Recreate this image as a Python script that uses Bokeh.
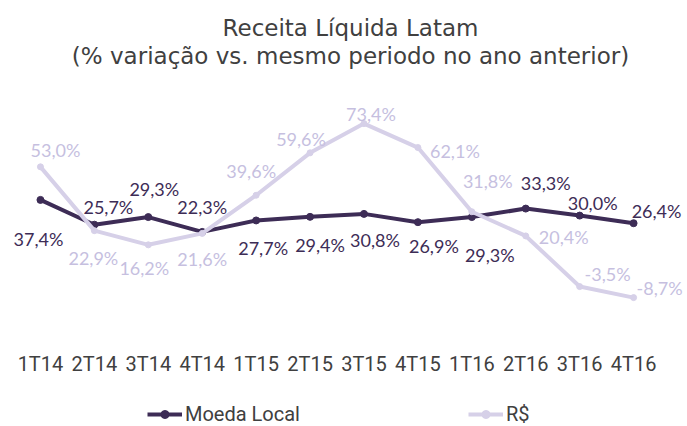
from bokeh.plotting import figure
from bokeh.layouts import column
from bokeh.core.properties import value
from bokeh.models import (ColumnDataSource, LabelSet, Legend, LegendItem, Title,
                          Range1d, FixedTicker)
from bokeh.embed import file_html
from bokeh.resources import INLINE

quarters = ["1T14", "2T14", "3T14", "4T14", "1T15", "2T15", "3T15", "4T15",
            "1T16", "2T16", "3T16", "4T16"]
moeda_local = [37.4, 25.7, 29.3, 22.3, 27.7, 29.4, 30.8, 26.9, 29.3, 33.3, 30.0, 26.4]
reais = [53.0, 22.9, 16.2, 21.6, 39.6, 59.6, 73.4, 62.1, 31.8, 20.4, -3.5, -8.7]
series_names = ["Moeda Local", "R$"]

# label offsets (screen px) – layout only
ml_dx = [-2, 14, 6, 0, 7, 10, 11, 16, 18, 20, 13, 23]
ml_dy = [-39, 18, 28, 25, -28, -28, -26, -24, -38, 26, 13, 12]
rs_dx = [15, -1, -4, 0, -5, -9, 7, 37, 16, 38, 28, 26]
rs_dy = [17, -27, -23, -26, 24, 14, 10, -3, 31, -1, 13, 10]

DARK = "#3d2c56"
LIGHT = "#d6d0e8"
LIGHT_TXT = "#c6bfdf"
GREY = "#404040"


def fmt(v):
    return f"{v:.1f}%".replace(".", ",")


xs = list(range(len(quarters)))
src_ml = ColumnDataSource(dict(x=xs, y=moeda_local,
                               t=[fmt(v) for v in moeda_local], dx=ml_dx, dy=ml_dy))
src_rs = ColumnDataSource(dict(x=xs, y=reais,
                               t=[fmt(v) for v in reais], dx=rs_dx, dy=rs_dy))

p = figure(x_range=Range1d(-0.5, 12.0),
           y_range=Range1d(-31.3, 99.4),
           frame_width=674, frame_height=277,
           min_border_left=13, min_border_right=0,
           min_border_top=68, min_border_bottom=51,
           output_backend="svg", toolbar_location=None,
           y_axis_location=None, title=None)

p.outline_line_color = None
p.xgrid.visible = False
p.ygrid.visible = False
ax = p.xaxis[0]
ax.ticker = FixedTicker(ticks=xs)
ax.major_label_overrides = {i: q for i, q in enumerate(quarters)}
ax.axis_line_color = None
ax.major_tick_line_color = None
ax.minor_tick_line_color = None
ax.major_label_text_font = "Roboto"
ax.major_label_text_font_size = "20px"
ax.major_label_text_color = GREY
ax.major_label_standoff = 0

p.line("x", "y", source=src_ml, line_color=DARK, line_width=4)
p.scatter("x", "y", source=src_ml, size=7, color=DARK)
p.line("x", "y", source=src_rs, line_color=LIGHT, line_width=4)
p.scatter("x", "y", source=src_rs, size=6, color=LIGHT)

for src, col in ((src_ml, DARK), (src_rs, LIGHT_TXT)):
    p.add_layout(LabelSet(x="x", y="y", text="t", source=src,
                          x_offset="dx", y_offset="dy",
                          text_align="center", text_baseline="middle",
                          text_font=value("Lato"), text_font_size=value("18px"),
                          text_color=col))

t2 = Title(text="(% variação vs. mesmo periodo no ano anterior)", align="center",
           text_font="DejaVu Sans", text_font_size="23px", text_font_style="normal",
           text_color=GREY, standoff=0)
t1 = Title(text="Receita Líquida Latam", align="center",
           text_font="DejaVu Sans", text_font_size="23px", text_font_style="normal",
           text_color=GREY, standoff=0)
p.add_layout(t2, "above")
p.add_layout(t1, "above")

# legend strip below the chart (its glyphs use the same series, outside its view)
lg = figure(x_range=Range1d(-0.5, 12.0), y_range=Range1d(500, 501),
            width=687, height=30,
            min_border_left=0, min_border_right=0, min_border_top=0, min_border_bottom=0,
            output_backend="svg", toolbar_location=None,
            x_axis_location=None, y_axis_location=None, title=None)
lg.outline_line_color = None
lg.xgrid.visible = False
lg.ygrid.visible = False
k_ml = lg.line("x", "y", source=src_ml, line_color=DARK, line_width=4)
m_ml = lg.scatter("x", "y", source=src_ml, size=7, color=DARK)
k_rs = lg.line("x", "y", source=src_rs, line_color=LIGHT, line_width=4)
m_rs = lg.scatter("x", "y", source=src_rs, size=6, color=LIGHT)
legend = Legend(items=[LegendItem(label=series_names[0], renderers=[k_ml, m_ml]),
                       LegendItem(label=series_names[1], renderers=[k_rs, m_rs])],
                orientation="horizontal", location=(134, 0),
                glyph_width=35, glyph_height=20, label_height=24,
                label_standoff=3, label_width=283, spacing=0,
                padding=0, margin=0,
                border_line_alpha=0, background_fill_alpha=0,
                label_text_font="Roboto", label_text_font_size="20px",
                label_text_color=GREY)
lg.add_layout(legend, "center")

layout = column(p, lg, spacing=0)
open("out.html", "w").write(file_html(layout, INLINE))
